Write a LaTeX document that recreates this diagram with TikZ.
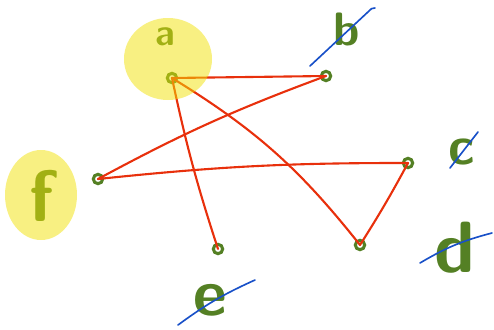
\documentclass[tikz,border=0pt]{standalone}
\usetikzlibrary{positioning}

\definecolor{inkgreen}{RGB}{84,128,36}
\definecolor{inkred}{RGB}{232,48,12}
\definecolor{inkblue}{RGB}{24,80,200}
\definecolor{hilite}{RGB}{241,225,5}

\begin{document}
\begin{tikzpicture}[
  x=0.03cm, y=-0.03cm,
  vertex/.style={circle, draw=inkgreen, line width=2.6pt, inner sep=0pt, minimum size=8pt},
  letter/.style={text=inkgreen, inner sep=0pt, font=\sffamily\bfseries\fontsize{#1}{#1}\selectfont},
  edge/.style={draw=inkred, line width=1.8pt, line cap=round},
  strike/.style={draw=inkblue, line width=1.4pt, line cap=round},
  glow/.style={fill=hilite, opacity=0.5}
]
\useasboundingbox (0,0) rectangle (494,329);

% letters
\node[letter=32] (a) at (165,37) {a};
\node[letter=40] (b) at (347,29) {b};
\node[letter=46] (c) at (462,152) {c};
\node[letter=62] (d) at (455,248) {d};
\node[letter=56] (e) at (210,300) {e};
\node[letter=62] (f) at (42,196) {f};

% vertices
\node[vertex] (va) at (172,78) {};
\node[vertex] (vb) at (326,76) {};
\node[vertex] (vc) at (408,163) {};
\node[vertex] (vd) at (360,245) {};
\node[vertex] (ve) at (218,249) {};
\node[vertex] (vf) at (98,179) {};

% red edges
\draw[edge] (va.center) -- (vb.center);
\draw[edge] (vf.center) to[bend left=4] (vb.center);
\draw[edge] (vf.center) to[bend left=3] (vc.center);
\draw[edge] (va.center) to[bend right=3] (ve.center);
\draw[edge] (va.center) to[bend left=10] (vd.center);
\draw[edge] (vc.center) to[bend left=2] (vd.center);

% crossed out
\draw[strike] ([shift={(-37,37)}]b.center) -- ([shift={(22,-18)}]b.center) to[bend left=30] ([shift={(28,-21)}]b.center);
\draw[strike] ([shift={(-12,16)}]c.center) -- ([shift={(16,-20)}]c.center);
\draw[strike] ([shift={(-35,15)}]d.center) to[bend left=8] ([shift={(37,-15)}]d.center);
\draw[strike] ([shift={(-32,25)}]e.center) to[bend left=6] ([shift={(45,-20)}]e.center);

% highlights
\fill[glow] (168,59) ellipse (44 and 41);
\fill[glow] (41,195) ellipse (36 and 45);
\end{tikzpicture}
\end{document}
